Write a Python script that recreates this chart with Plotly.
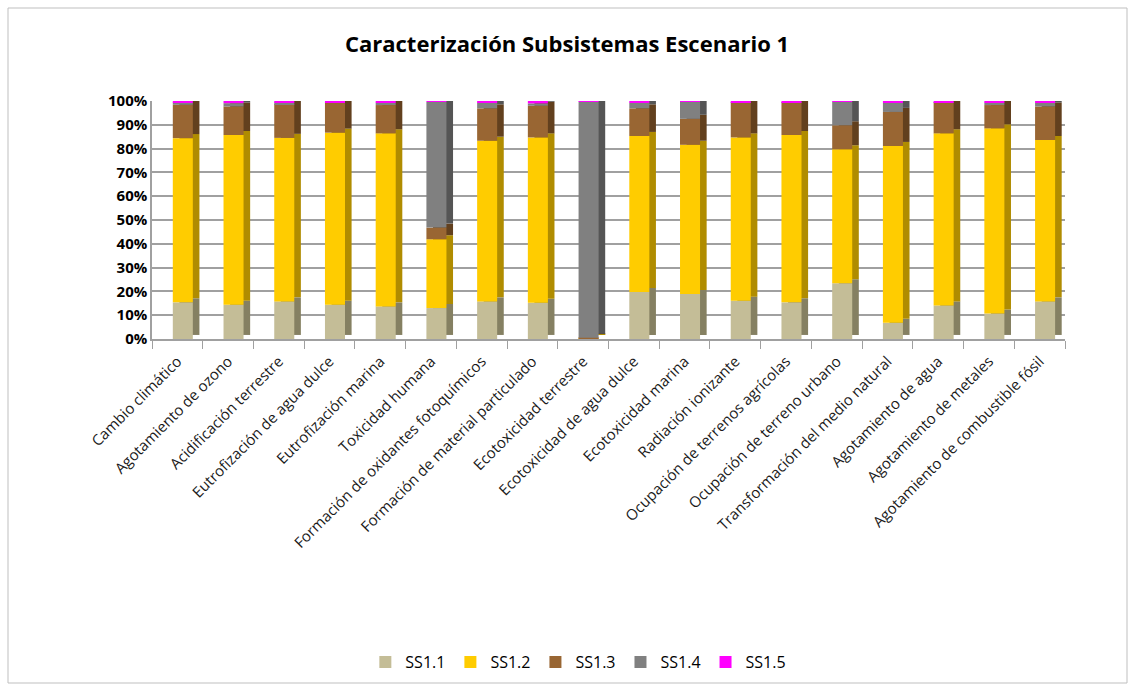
import plotly.graph_objects as go

categories = ["Cambio climático", "Agotamiento de ozono", "Acidificación terrestre",
              "Eutrofización de agua dulce", "Eutrofización marina", "Toxicidad humana",
              "Formación de oxidantes fotoquímicos", "Formación de material particulado",
              "Ecotoxicidad terrestre", "Ecotoxicidad de agua dulce", "Ecotoxicidad marina",
              "Radiación ionizante", "Ocupación de terrenos agrícolas",
              "Ocupación de terreno urbano", "Transformación del medio natural",
              "Agotamiento de agua", "Agotamiento de metales",
              "Agotamiento de combustible fósil"]

ss11 = [15.4, 14.4, 15.8, 14.4, 13.7, 13.0, 15.8, 15.2, 0.1, 19.7, 18.9, 16.1, 15.4, 23.4, 6.8, 14.1, 10.7, 15.8]
ss12 = [69.0, 71.3, 68.7, 72.3, 72.7, 28.9, 67.5, 69.5, 0.3, 65.6, 62.7, 68.6, 70.3, 56.3, 74.3, 72.3, 77.8, 67.8]
ss13 = [14.0, 12.0, 14.2, 12.6, 11.9, 4.9, 13.6, 13.3, 0.1, 11.6, 10.9, 14.6, 13.6, 10.1, 14.3, 12.9, 9.8, 14.1]
ss14 = [1.0, 1.4, 0.7, 0.2, 1.0, 52.8, 2.4, 1.0, 99.3, 2.4, 7.1, 0.1, 0.1, 9.9, 3.9, 0.1, 1.0, 1.6]
ss15 = [0.6, 0.9, 0.6, 0.5, 0.7, 0.4, 0.7, 1.0, 0.2, 0.7, 0.4, 0.6, 0.6, 0.3, 0.7, 0.6, 0.7, 0.7]

series_names = ["SS1.1", "SS1.2", "SS1.3", "SS1.4", "SS1.5"]
series_values = [ss11, ss12, ss13, ss14, ss15]
front_colors = ["#C4BD97", "#FFCC00", "#996633", "#808080", "#FF00FF"]
side_colors = ["#858062", "#B08C00", "#62401E", "#555555", "#B000B0"]

y_tick_values = list(range(0, 101, 10))
y_tick_labels = [f"<b>{v}%</b>" for v in y_tick_values]

# 100 % normalisation
totals = [sum(s[i] for s in series_values) for i in range(len(categories))]
pct = [[s[i] / totals[i] * 100 for i in range(len(categories))] for s in series_values]
bases = []
run = [0.0] * len(categories)
for s in pct:
    bases.append(run[:])
    run = [run[i] + s[i] for i in range(len(categories))]

W = 0.395      # bar width (category units)
OFF = -0.09    # front face offset
DX = 0.13      # depth shift in x
DY = 1.7       # depth shift in y (%)

fig = go.Figure()
FONT = "'Open Sans', 'Liberation Sans', sans-serif"

# side/depth faces
for k, name in enumerate(series_names):
    fig.add_trace(go.Bar(
        x=categories, y=pct[k], base=[b + DY for b in bases[k]],
        width=W, offset=OFF + DX, marker=dict(color=side_colors[k], line=dict(width=0)),
        showlegend=False, hoverinfo="skip", cliponaxis=False))

# top face
fig.add_trace(go.Bar(
    x=categories, y=[DY] * len(categories), base=run,
    width=W, offset=OFF + DX / 2, marker=dict(color="#FF00FF", line=dict(width=0)),
    showlegend=False, hoverinfo="skip", cliponaxis=False))

# front faces
for k, name in enumerate(series_names):
    fig.add_trace(go.Bar(
        x=categories, y=pct[k], base=bases[k], name=name,
        width=W, offset=OFF, marker=dict(color=front_colors[k], line=dict(width=0)),
        cliponaxis=False))

fig.update_layout(
    width=1134, height=689,
    barmode="overlay",
    paper_bgcolor="white", plot_bgcolor="white",
    margin=dict(l=152, r=69, t=101, b=350),
    font=dict(family=FONT, color="#000000"),
    title=dict(text="<b>Caracterización Subsistemas Escenario 1</b>",
               x=0.5, xanchor="center", y=0.935, yanchor="middle",
               font=dict(size=22, family=FONT, color="#000000")),
    legend=dict(orientation="h", xref="container", yref="container",
                x=0.51, xanchor="center", y=0.039, yanchor="middle",
                font=dict(size=16, family=FONT, color="#000000"),
                traceorder="normal", itemwidth=30),
    showlegend=True,
)

fig.update_xaxes(
    type="category", tickangle=-45, tickfont=dict(size=15, family=FONT, color="#1a1a1a"),
    showgrid=False, showline=True, linecolor="#A0A0A0", linewidth=1.5,
    ticks="outside", tickson="boundaries", ticklen=8, tickcolor="#A0A0A0",
    ticklabelstandoff=6,
    range=[-0.5, len(categories) - 0.5])

fig.update_yaxes(
    range=[0, 100], tickvals=y_tick_values, ticktext=y_tick_labels,
    tickfont=dict(size=15, family=FONT, color="#000000"),
    showgrid=True, gridcolor="#A0A0A0", gridwidth=1.5,
    showline=True, linecolor="#A0A0A0", linewidth=1.5,
    ticks="", zeroline=False)

# outer chart border
fig.add_shape(type="rect", xref="paper", yref="paper",
              x0=(8 - 152) / 913, x1=(1127 - 152) / 913,
              y0=(339 - 683) / 238, y1=(339 - 8) / 238,
              line=dict(color="#BFBFBF", width=1), fillcolor="rgba(0,0,0,0)", layer="below")

fig.write_html("out.html", config={"displayModeBar": False},
               post_script="document.body.style.margin='0';")
